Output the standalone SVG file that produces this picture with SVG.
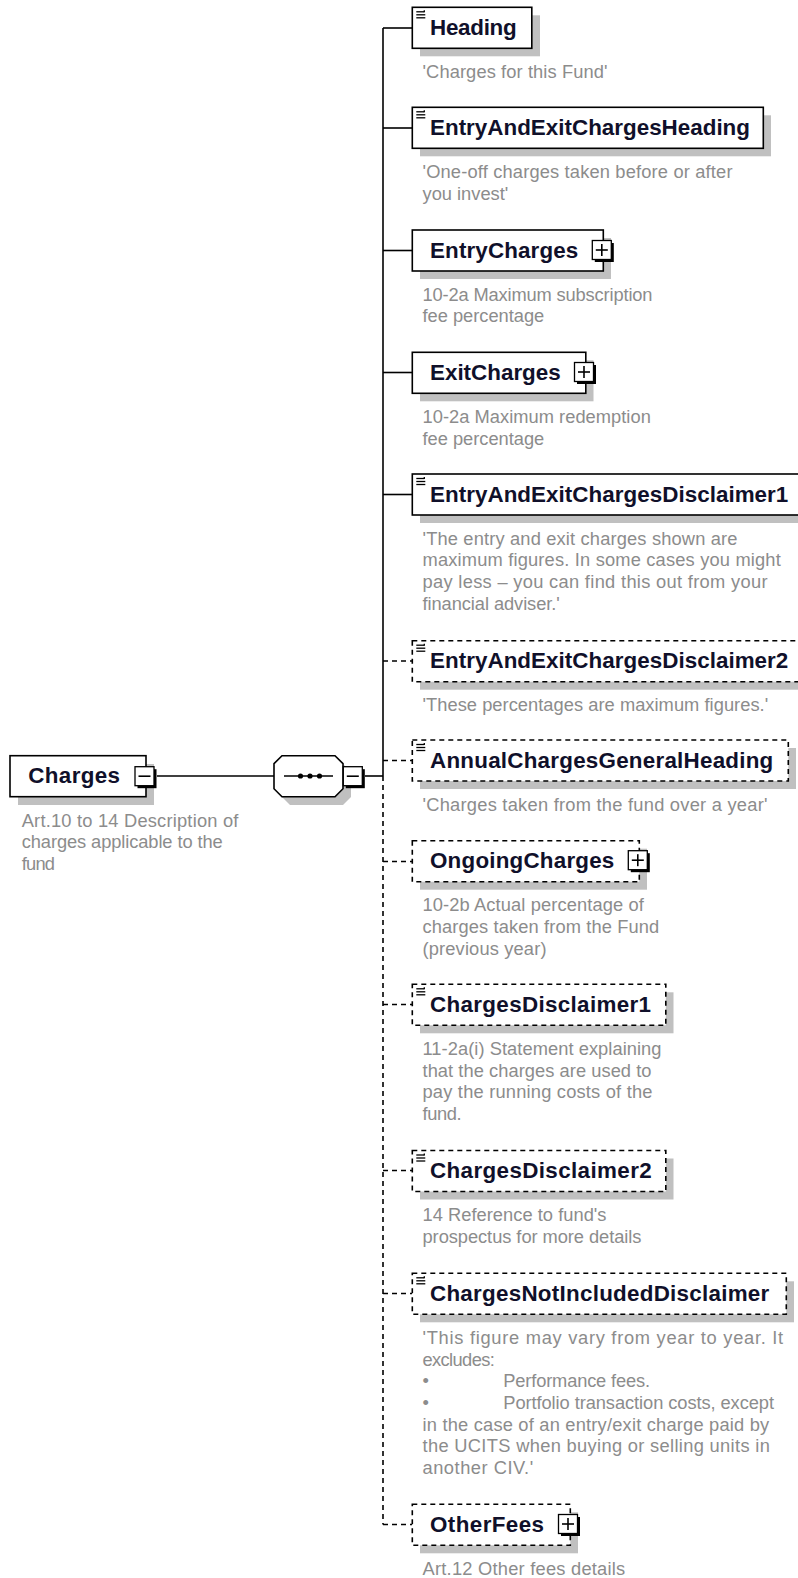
<svg xmlns="http://www.w3.org/2000/svg" width="798" height="1578" viewBox="0 0 798 1578">
<defs>
<style>
.bg{fill:#fff}
.box{fill:#fff;stroke:#000;stroke-width:1.6}
.dbox{fill:#fff;stroke:#000;stroke-width:1.6;stroke-dasharray:5 4}
.sh{fill:#c0c0c0}
.nm{font-family:"Liberation Sans",Arial,sans-serif;font-weight:bold;font-size:22.4px;fill:#10102a}
.ds{font-family:"Liberation Sans",Arial,sans-serif;font-size:18.3px;fill:#8c8c8c}
.ln{stroke:#000;stroke-width:1.6;fill:none}
.dln{stroke:#000;stroke-width:1.6;fill:none;stroke-dasharray:5 4}
.ic{stroke:#000;stroke-width:1.3}
.xb{fill:#fff;stroke:#000;stroke-width:1.3}
.xs{fill:#000}
.pm{stroke:#000;stroke-width:1.6}
</style>
<g id="icon"><line class="ic" x1="4" y1="4.5" x2="12" y2="4.5"/><line class="ic" x1="4" y1="7.5" x2="13" y2="7.5"/><line class="ic" x1="4" y1="10.5" x2="13" y2="10.5"/><line class="ic" x1="12" y1="3" x2="12" y2="5"/></g>
<g id="plus"><rect class="xs" x="2.5" y="2.5" width="19" height="19"/><rect class="xb" x="0" y="0" width="19" height="19"/><line class="pm" x1="3.5" y1="9.5" x2="15.5" y2="9.5"/><line class="pm" x1="9.5" y1="3.5" x2="9.5" y2="15.5"/></g>
<g id="minus"><rect class="xs" x="2.5" y="2.5" width="19" height="19"/><rect class="xb" x="0" y="0" width="19" height="19"/><line class="pm" x1="3.5" y1="9.5" x2="15.5" y2="9.5"/></g>
</defs>
<rect class="bg" x="0" y="0" width="798" height="1578"/>

<g id="connectors">
<line class="ln" x1="157" y1="776" x2="274" y2="776"/>
<line class="ln" x1="365" y1="776" x2="383" y2="776"/>
<line class="ln" x1="383" y1="28" x2="383" y2="776"/>
<line class="dln" x1="383" y1="776" x2="383" y2="1524.5"/>
<line class="ln" x1="383" y1="28" x2="412" y2="28"/>
<line class="ln" x1="383" y1="128" x2="412" y2="128"/>
<line class="ln" x1="383" y1="250.5" x2="412" y2="250.5"/>
<line class="ln" x1="383" y1="372.5" x2="412" y2="372.5"/>
<line class="ln" x1="383" y1="494.5" x2="412" y2="494.5"/>
<line class="dln" x1="383" y1="661" x2="412" y2="661"/>
<line class="dln" x1="383" y1="760.5" x2="412" y2="760.5"/>
<line class="dln" x1="383" y1="861.5" x2="412" y2="861.5"/>
<line class="dln" x1="383" y1="1004.5" x2="412" y2="1004.5"/>
<line class="dln" x1="383" y1="1170.5" x2="412" y2="1170.5"/>
<line class="dln" x1="383" y1="1293.5" x2="412" y2="1293.5"/>
<line class="dln" x1="383" y1="1524.5" x2="412" y2="1524.5"/>
</g>

<g id="n-charges">
<rect class="sh" x="18" y="764" width="136" height="41"/>
<rect class="box" x="10" y="755.7" width="136" height="41"/>
<text class="nm" x="28.3" y="783.2" textLength="91.7">Charges</text>
<use href="#minus" x="135" y="766.7"/>
<text class="ds" x="21.7" y="826.7" textLength="216.7">Art.10 to 14 Description of</text>
<text class="ds" x="21.7" y="848.4" textLength="201">charges applicable to the</text>
<text class="ds" x="21.7" y="870.1" textLength="33.3">fund</text>
</g>

<g id="n-sequence">
<path class="sh" d="M290,764 H343 L351,772 V797 L343,805 H290 L282,797 V772 Z"/>
<path class="box" d="M282,755.7 H335 L343,763.7 V788.7 L335,796.7 H282 L274,788.7 V763.7 Z"/>
<line class="ln" x1="284" y1="776" x2="333" y2="776"/>
<circle cx="300.5" cy="776" r="2.6"/>
<circle cx="310" cy="776" r="2.6"/>
<circle cx="319.5" cy="776" r="2.6"/>
<use href="#minus" x="343.3" y="766.7"/>
</g>

<g id="n-heading">
<rect class="sh" x="420" y="15.3" width="120" height="41"/>
<rect class="box" x="412.3" y="7.3" width="119.5" height="41"/>
<use href="#icon" x="412.3" y="7.3"/>
<text class="nm" x="430" y="34.8" textLength="86.7">Heading</text>
<text class="ds" x="422.5" y="77.8" textLength="185">'Charges for this Fund'</text>
</g>

<g id="n-eaech">
<rect class="sh" x="420" y="115.3" width="351" height="41"/>
<rect class="box" x="412.3" y="107.3" width="351" height="41"/>
<use href="#icon" x="412.3" y="107.3"/>
<text class="nm" x="430" y="134.8" textLength="320">EntryAndExitChargesHeading</text>
<text class="ds" x="422.5" y="177.8" textLength="310">'One-off charges taken before or after</text>
<text class="ds" x="422.5" y="199.5">you invest'</text>
</g>

<g id="n-entrycharges">
<rect class="sh" x="420" y="238" width="191" height="41"/>
<rect class="box" x="412.3" y="230" width="191" height="41"/>
<text class="nm" x="430" y="257.5" textLength="148.3">EntryCharges</text>
<use href="#plus" x="592.3" y="240.5"/>
<text class="ds" x="422.5" y="300.5" textLength="230">10-2a Maximum subscription</text>
<text class="ds" x="422.5" y="322.2" textLength="121.7">fee percentage</text>
</g>

<g id="n-exitcharges">
<rect class="sh" x="420" y="360.3" width="173.5" height="41"/>
<rect class="box" x="412.3" y="352.3" width="173.5" height="41"/>
<text class="nm" x="430" y="379.8" textLength="130.7">ExitCharges</text>
<use href="#plus" x="574.5" y="362.5"/>
<text class="ds" x="422.5" y="422.8" textLength="228.3">10-2a Maximum redemption</text>
<text class="ds" x="422.5" y="444.5" textLength="121.7">fee percentage</text>
</g>

<g id="n-disc1">
<rect class="sh" x="420" y="482" width="398" height="41"/>
<rect class="box" x="412.3" y="474" width="398" height="41"/>
<use href="#icon" x="412.3" y="474"/>
<text class="nm" x="430" y="501.5" textLength="358.3">EntryAndExitChargesDisclaimer1</text>
<text class="ds" x="422.5" y="544.5" textLength="315">'The entry and exit charges shown are</text>
<text class="ds" x="422.5" y="566.2" textLength="358.3">maximum figures. In some cases you might</text>
<text class="ds" x="422.5" y="587.9" textLength="345">pay less – you can find this out from your</text>
<text class="ds" x="422.5" y="609.6" textLength="137.3">financial adviser.'</text>
</g>

<g id="n-disc2">
<rect class="sh" x="420" y="648.7" width="398" height="41"/>
<rect class="dbox" x="412.3" y="640.7" width="398" height="41"/>
<use href="#icon" x="412.3" y="640.7"/>
<text class="nm" x="430" y="668.2" textLength="358.3">EntryAndExitChargesDisclaimer2</text>
<text class="ds" x="422.5" y="711.2" textLength="345.7">'These percentages are maximum figures.'</text>
</g>

<g id="n-annual">
<rect class="sh" x="420" y="748" width="376" height="41"/>
<rect class="dbox" x="412.3" y="740" width="376" height="41"/>
<use href="#icon" x="412.3" y="740"/>
<text class="nm" x="430" y="767.5" textLength="343.3">AnnualChargesGeneralHeading</text>
<text class="ds" x="422.5" y="810.5" textLength="345">'Charges taken from the fund over a year'</text>
</g>

<g id="n-ongoing">
<rect class="sh" x="420" y="848.7" width="227" height="41"/>
<rect class="dbox" x="412.3" y="840.7" width="227" height="41"/>
<text class="nm" x="430" y="868.2" textLength="184.3">OngoingCharges</text>
<use href="#plus" x="628.3" y="850.7"/>
<text class="ds" x="422.5" y="911.2" textLength="221.3">10-2b Actual percentage of</text>
<text class="ds" x="422.5" y="932.9" textLength="236.7">charges taken from the Fund</text>
<text class="ds" x="422.5" y="954.6" textLength="124">(previous year)</text>
</g>

<g id="n-cd1">
<rect class="sh" x="420" y="992.3" width="253.5" height="41"/>
<rect class="dbox" x="412.3" y="984.3" width="253.5" height="41"/>
<use href="#icon" x="412.3" y="984.3"/>
<text class="nm" x="430" y="1011.8" textLength="221">ChargesDisclaimer1</text>
<text class="ds" x="422.5" y="1054.8" textLength="239">11-2a(i) Statement explaining</text>
<text class="ds" x="422.5" y="1076.5" textLength="229">that the charges are used to</text>
<text class="ds" x="422.5" y="1098.2" textLength="230">pay the running costs of the</text>
<text class="ds" x="422.5" y="1119.9" textLength="39">fund.</text>
</g>

<g id="n-cd2">
<rect class="sh" x="420" y="1158.5" width="253.5" height="41"/>
<rect class="dbox" x="412.3" y="1150.5" width="253.5" height="41"/>
<use href="#icon" x="412.3" y="1150.5"/>
<text class="nm" x="430" y="1178" textLength="221.7">ChargesDisclaimer2</text>
<text class="ds" x="422.5" y="1221" textLength="184">14 Reference to fund's</text>
<text class="ds" x="422.5" y="1242.7" textLength="219">prospectus for more details</text>
</g>

<g id="n-cnid">
<rect class="sh" x="420" y="1281.3" width="374" height="41"/>
<rect class="dbox" x="412.3" y="1273.3" width="374" height="41"/>
<use href="#icon" x="412.3" y="1273.3"/>
<text class="nm" x="430" y="1300.8" textLength="339.3">ChargesNotIncludedDisclaimer</text>
<text class="ds" x="422.5" y="1343.8" textLength="360.7">'This figure may vary from year to year. It</text>
<text class="ds" x="422.5" y="1365.5" textLength="72.3">excludes:</text>
<text class="ds" x="422.5" y="1387.2">•</text>
<text class="ds" x="503.3" y="1387.2" textLength="146.7">Performance fees.</text>
<text class="ds" x="422.5" y="1408.9">•</text>
<text class="ds" x="503.3" y="1408.9" textLength="270.7">Portfolio transaction costs, except</text>
<text class="ds" x="422.5" y="1430.6" textLength="346.7">in the case of an entry/exit charge paid by</text>
<text class="ds" x="422.5" y="1452.3" textLength="347.3">the UCITS when buying or selling units in</text>
<text class="ds" x="422.5" y="1474" textLength="110.7">another CIV.'</text>
</g>

<g id="n-otherfees">
<rect class="sh" x="420" y="1512.3" width="158" height="41"/>
<rect class="dbox" x="412.3" y="1504.3" width="158" height="41"/>
<text class="nm" x="430" y="1531.8" textLength="114">OtherFees</text>
<use href="#plus" x="558.5" y="1514.5"/>
<text class="ds" x="422.5" y="1574.5" textLength="202.7">Art.12 Other fees details</text>
</g>
</svg>
